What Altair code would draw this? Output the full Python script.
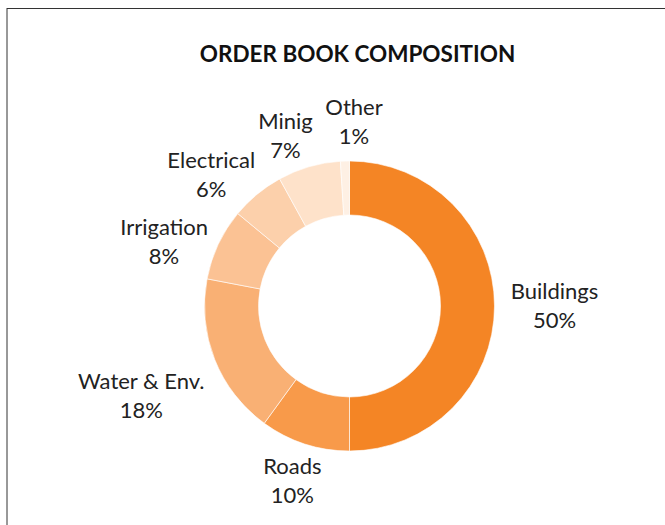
import altair as alt
import pandas as pd

categories = ["Buildings", "Roads", "Water & Env.", "Irrigation", "Electrical", "Minig", "Other"]
shares = [50, 10, 18, 8, 6, 7, 1]
colors = ["#F48525", "#F89A4A", "#F9B074", "#FBC294", "#FCD0AB", "#FEE2CA", "#FEF0E4"]
title_text = "ORDER BOOK COMPOSITION"

df = pd.DataFrame({
    "category": categories,
    "share": shares,
    "idx": list(range(len(categories))),
})
df["label"] = [f"{c}\n{s}%" for c, s in zip(categories, shares)]
total = sum(shares)

CX, CY = 349.5, 306

# label placement (radius in px, angular nudge in radians), like Excel's best-fit labels
label_layout = {
    "Buildings": (205, 0.0),
    "Roads": (185, 0.0),
    "Water & Env.": (227, -0.033),
    "Irrigation": (196, -0.110),
    "Electrical": (190, -0.124),
    "Minig": (181, -0.079),
    "Other": (184, 0.056),
}

theta_scale = alt.Scale(domain=[0, total])

arcs = alt.Chart(df).mark_arc(innerRadius=91, outerRadius=145, stroke="white", strokeWidth=0.6).encode(
    theta=alt.Theta("share:Q", stack=True, scale=theta_scale),
    order=alt.Order("idx:Q"),
    color=alt.Color("category:N", scale=alt.Scale(domain=categories, range=colors), legend=None),
    x=alt.value(CX),
    y=alt.value(CY),
)

label_layers = []
for cat in categories:
    r, off = label_layout[cat]
    lyr = alt.Chart(df).transform_window(
        cum="sum(share)", sort=[alt.SortField("idx")], frame=[None, 0]
    ).transform_calculate(
        mid="datum.cum - datum.share / 2"
    ).transform_filter(
        alt.datum.category == cat
    ).mark_text(
        radius=r, thetaOffset=off, font="Lato", fontSize=22, lineBreak="\n", lineHeight=29,
        color="#222222", align="center", baseline="middle", dy=-14.5
    ).encode(
        theta=alt.Theta("mid:Q", stack=None, scale=theta_scale),
        text="label:N",
        x=alt.value(CX),
        y=alt.value(CY),
    )
    label_layers.append(lyr)

title = alt.Chart(pd.DataFrame({"t": [title_text]})).mark_text(
    font="Lato", fontSize=22.5, fontWeight="bold", color="#111111",
    align="center", baseline="alphabetic"
).encode(text="t:N", x=alt.value(357.5), y=alt.value(62))

frame_top = alt.Chart(pd.DataFrame({"a": [0]})).mark_rule(color="#333333", strokeWidth=1).encode(
    x=alt.value(7), x2=alt.value(665), y=alt.value(8.5)
)
frame_left = alt.Chart(pd.DataFrame({"a": [0]})).mark_rule(color="#333333", strokeWidth=1).encode(
    x=alt.value(7), y=alt.value(8), y2=alt.value(525)
)

chart = alt.layer(frame_top, frame_left, arcs, *label_layers, title).properties(
    width=665, height=525, padding=0, autosize=alt.AutoSizeParams(type="none"),
    background="white"
).configure_view(stroke=None)

chart.save("out.html", embed_options={"renderer": "svg", "actions": False})
